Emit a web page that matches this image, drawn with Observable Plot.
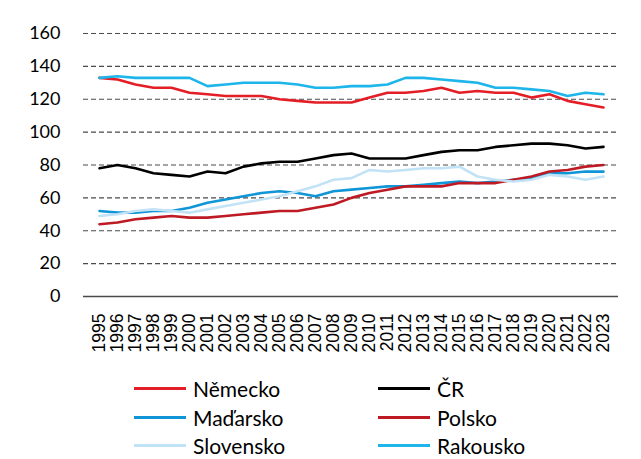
<!DOCTYPE html>
<html>
<head>
<meta charset="utf-8">
<script src="https://cdn.jsdelivr.net/npm/d3@7"></script>
<script src="https://cdn.jsdelivr.net/npm/@observablehq/plot@0.6"></script>
<style>
  body { margin: 0; background: #fff; }
  #wrap { width: 641px; height: 459px; position: relative; overflow: hidden; }
  #legend { position: relative; width: 641px; height: 94px; font-family: Lato, "Open Sans", sans-serif; font-size: 21px; color: #000; }
  .item { position: absolute; display: flex; align-items: center; height: 26px; }
  .sw { width: 52px; height: 0; border-top-width: 3px; border-top-style: solid; margin-right: 7px; }
  .xlab text { font-family: "Liberation Sans", Arial, sans-serif; }
</style>
</head>
<body>
<div id="wrap">
  <div id="chart"></div>
  <div id="legend"></div>
</div>
<script>
const years = d3.range(1995, 2024);
const nemecko   = [133,132,129,127,127,124,123,122,122,122,120,119,118,118,118,121,124,124,125,127,124,125,124,124,121,123,119,117,115];
const cr        = [78,80,78,75,74,73,76,75,79,81,82,82,84,86,87,84,84,84,86,88,89,89,91,92,93,93,92,90,91];
const madarsko  = [52,51,51,52,52,54,57,59,61,63,64,63,61,64,65,66,67,67,68,69,70,69,70,71,72,75,75,76,76];
const polsko    = [44,45,47,48,49,48,48,49,50,51,52,52,54,56,60,63,65,67,67,67,69,69,69,71,73,76,77,79,80];
const slovensko = [49,50,52,53,52,51,53,55,57,59,61,64,67,71,72,77,76,77,78,78,79,73,71,70,71,74,73,71,73];
const rakousko  = [133,134,133,133,133,133,128,129,130,130,130,129,127,127,128,128,129,133,133,132,131,130,127,127,126,125,122,124,123];

const seriesNames  = ["Německo", "ČR", "Maďarsko", "Polsko", "Slovensko", "Rakousko"];
const seriesValues = [nemecko, cr, madarsko, polsko, slovensko, rakousko];
const seriesColors = ["#E41E26", "#000000", "#1095D6", "#BE1A24", "#C2E2F6", "#1DB5EA"];
const yTicks = [0, 20, 40, 60, 80, 100, 120, 140, 160];

const data = [];
seriesNames.forEach((name, i) => {
  seriesValues[i].forEach((v, j) => data.push({ series: name, year: String(years[j]), value: v }));
});

const chart = Plot.plot({
  width: 641,
  height: 365,
  marginTop: 33,
  marginBottom: 69,
  marginLeft: 83,
  marginRight: 23,
  style: { fontFamily: "Lato, 'Open Sans', sans-serif", background: "#fff" },
  x: { type: "point", domain: years.map(String), padding: 0.5, label: null },
  y: { domain: [0, 160], label: null },
  color: { domain: seriesNames, range: seriesColors },
  marks: [
    Plot.ruleY(yTicks.filter(d => d > 0), { stroke: "#4a4a4a", strokeWidth: 1.1, strokeDasharray: "5,3", strokeOpacity: 1 }),
    Plot.ruleY([0], { stroke: "#4a4a4a", strokeWidth: 1.3 }),
    Plot.axisY({ ticks: yTicks, tickSize: 0, tickPadding: 23, fontSize: 18, label: null, fill: "#000" }),
    Plot.axisX({ tickSize: 0, tickPadding: 17, tickRotate: -90, fontSize: 17.5, label: null, fill: "#000", className: "xlab" }),
    Plot.line(data, { x: "year", y: "value", z: "series", stroke: "series", strokeWidth: 2.6, curve: "linear" })
  ]
});
document.getElementById("chart").appendChild(chart);

const legend = document.getElementById("legend");
const colX = [134, 378];
const rowY = [23, 52, 80];
seriesNames.forEach((name, i) => {
  const col = i % 2, row = Math.floor(i / 2);
  const it = document.createElement("div");
  it.className = "item";
  it.style.left = colX[col] + "px";
  it.style.top = (rowY[row] - 13) + "px";
  const sw = document.createElement("div");
  sw.className = "sw";
  sw.style.borderTopColor = seriesColors[i];
  const t = document.createElement("span");
  t.textContent = name;
  it.appendChild(sw);
  it.appendChild(t);
  legend.appendChild(it);
});
</script>
</body>
</html>
